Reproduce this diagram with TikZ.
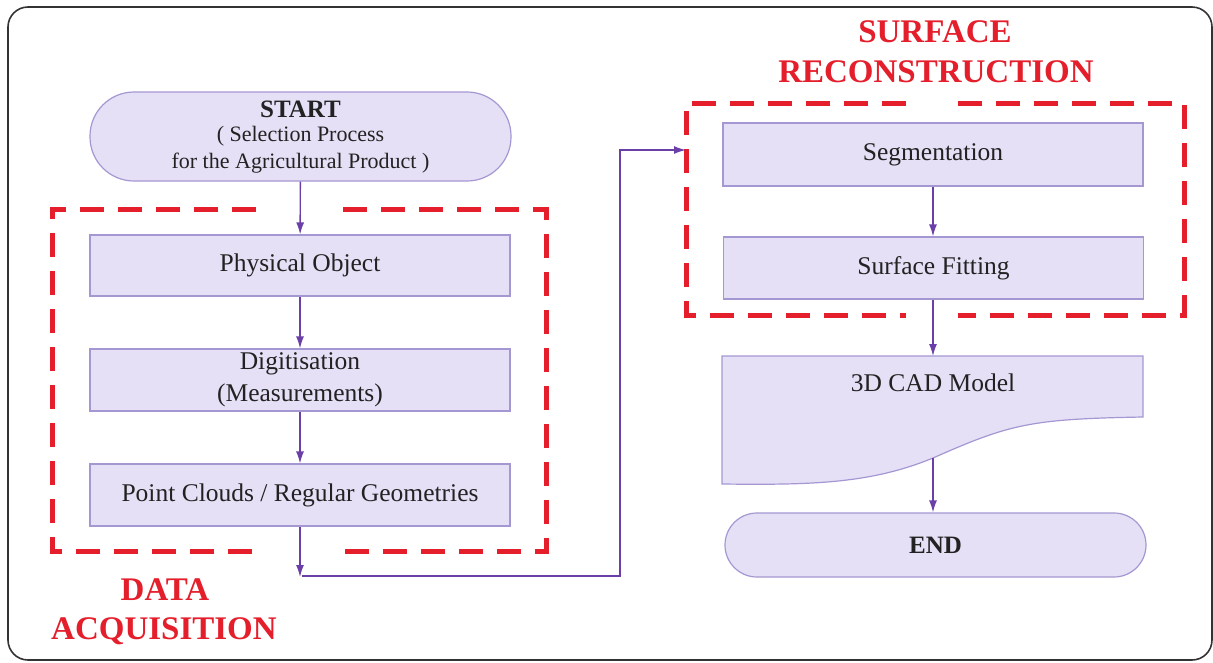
\documentclass[tikz,border=0pt]{standalone}
\usepackage{fontspec}
\setmainfont{Liberation Serif}
\usetikzlibrary{arrows.meta}
\definecolor{boxfill}{HTML}{E5E0F6}
\definecolor{boxline}{HTML}{A597D2}
\definecolor{arrowc}{HTML}{6B3FA8}
\definecolor{redc}{HTML}{E41E2B}
\definecolor{textc}{HTML}{222222}
\begin{document}
\begin{tikzpicture}[x=1pt,y=-1pt,
  procbox/.style={draw=boxline, fill=boxfill, line width=1.2pt, minimum width=420pt, minimum height=62pt, inner sep=0pt, text=textc, font=\fontsize{25.5}{32}\selectfont, align=center},
  termbox/.style={procbox, rounded corners=32pt},
  flow/.style={draw=arrowc, line width=1.4pt, -{Latex[length=12pt,width=8pt]}},
  groupbox/.style={draw=redc, line width=5pt, dash pattern=on 24pt off 14pt},
  grouplabel/.style={text=redc, font=\fontsize{33}{40}\selectfont\bfseries, inner sep=0pt, anchor=base}
]
\useasboundingbox (0,0) rectangle (1213,662);
% outer frame
\draw[line width=1.6pt, color=black!80, rounded corners=20pt] (8,7) rectangle (1212,660);

% group boxes
\draw[groupbox] (256,209) -- (52,209) -- (52,551) -- (256,551);
\draw[groupbox] (343,209) -- (546,209) -- (546,551) -- (343,551);
\draw[groupbox] (906,103) -- (686,103) -- (686,315) -- (906,315);
\draw[groupbox] (958,103) -- (1184,103) -- (1184,315) -- (958,315);

% group labels
\node[grouplabel] (lsurf) at (935,42) {SURFACE};
\node[grouplabel] (lrec) at (936,82) {RECONSTRUCTION};
\node[grouplabel] (ldata) at (165,600) {DATA};
\node[grouplabel] (lacq) at (164,639) {ACQUISITION};

% left column
\node[termbox, minimum width=421pt, minimum height=89pt, rounded corners=44pt] (start) at (300.5,136.5) {};
\node[text=textc, inner sep=0pt, font=\fontsize{25}{30}\selectfont\bfseries] (starttitle) at (300.5,109) {START};
\node[text=textc, inner sep=0pt, font=\fontsize{22}{27}\selectfont, align=center] (startsub) at (300.5,150) {( Selection Process\\for the Agricultural Product )};

\node[procbox, minimum height=61pt] (phys) at (300,265.5) {Physical Object};
\node[procbox] (dig) at (300,380) {Digitisation\\(Measurements)};
\node[procbox] (pc) at (300,495) {Point Clouds / Regular Geometries};

% right column
\node[procbox, minimum height=63pt] (seg) at (933,154.5) {Segmentation};
\node[procbox] (sf) at (933.5,268) {Surface Fitting};

% document shape
\draw[draw=boxline, fill=boxfill, line width=1.2pt]
  (722,356) -- (1143,356) -- (1143,417)
  .. controls (1030,419) and (1010,424) .. (933,458)
  .. controls (870,484) and (810,485) .. (722,484) -- cycle;
\node[text=textc, inner sep=0pt, font=\fontsize{25.5}{32}\selectfont] (cad) at (933,383) {3D CAD Model};
\coordinate (cadtop) at (933,356);
\coordinate (cadbot) at (933,458);

\node[termbox, minimum width=421pt, minimum height=64pt, font=\fontsize{25}{30}\selectfont\bfseries] (endn) at (935.5,545) {END};

% connectors
\draw[flow] (start) -- (phys);
\draw[flow] (phys) -- (dig);
\draw[flow] (dig) -- (pc);
\coordinate (c1) at (300,577);
\coordinate (c2) at (302,576);
\coordinate (c3) at (620,576);
\coordinate (srin) at (686,150);
\draw[flow] (pc) -- (c1);
\draw[flow] (c2) -- (c3) |- (srin);
\draw[flow] (seg.south -| cadtop) -- (sf.north -| cadtop);
\draw[flow] (sf.south -| cadtop) -- (cadtop);
\draw[flow] (cadbot) -- (cadbot |- endn.north);
\end{tikzpicture}
\end{document}
